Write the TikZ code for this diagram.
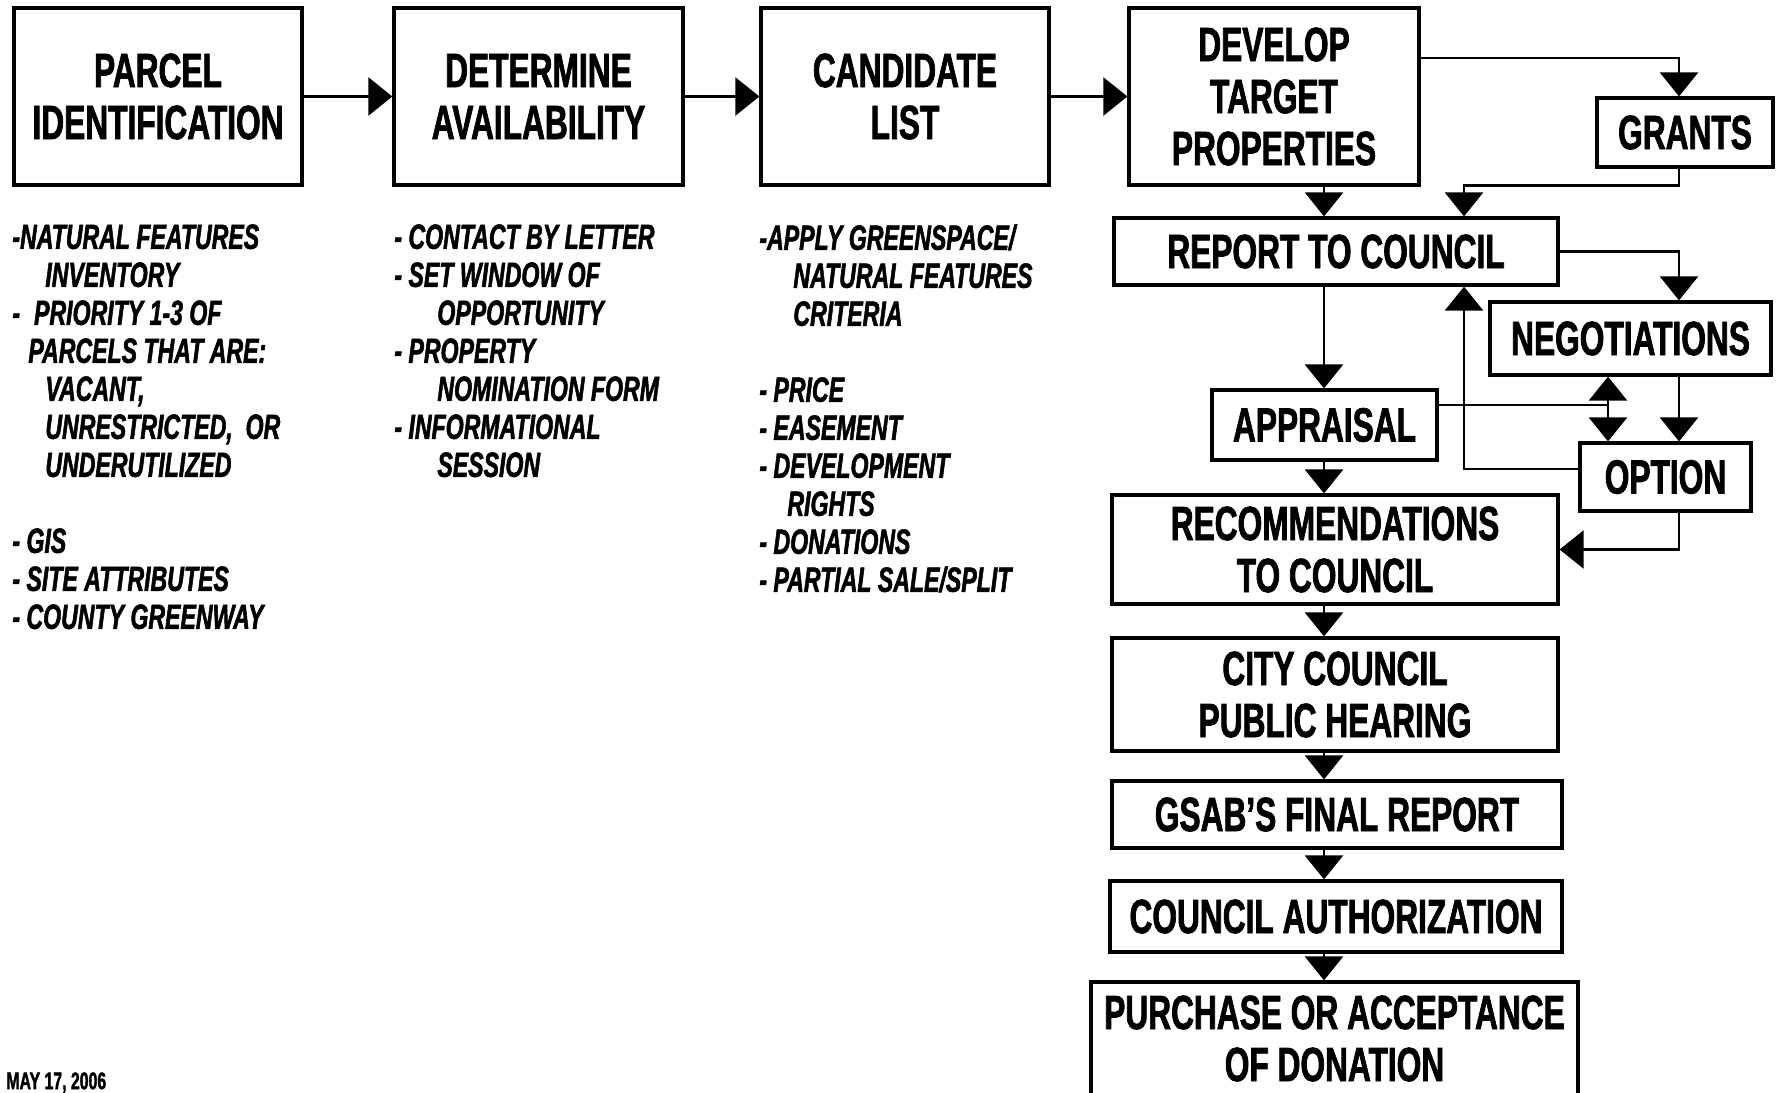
\documentclass[tikz,border=0pt]{standalone}
\usepackage{fontspec}
\setmainfont{Liberation Sans}[FakeStretch=0.66, BoldFeatures={FakeBold=1.5}, BoldItalicFeatures={FakeBold=1.5}]
\usetikzlibrary{arrows.meta,calc}
\newcommand{\boxfont}{\fontsize{24}{26}\selectfont\bfseries}
\newcommand{\notefont}{\fontsize{17.5}{19}\selectfont\bfseries\itshape}
\newcommand{\ind}[1]{\hspace*{#1pt}}
\tikzset{
  stage/.style={draw, line width=1.6pt, inner sep=0pt, align=center, font=\boxfont},
  notes/.style={anchor=north west, inner sep=0pt, align=left, font=\notefont},
  arr/.style={-{Triangle[width=19pt,length=12pt]}, line width=1.2pt},
  dblarr/.style={{Triangle[width=19pt,length=12pt]}-{Triangle[width=19pt,length=12pt]}, line width=1.2pt}
}

\begin{document}
\begin{tikzpicture}[x=0.5pt,y=-0.5pt]
        \useasboundingbox (0,0) rectangle (1781,1092);
        \clip (0,0) rectangle (1781,1092);
        % top row
        \node[stage, minimum width=144pt, minimum height=88.5pt] (parcel) at (158,96.5) {PARCEL\\IDENTIFICATION};
        \node[stage, minimum width=144.5pt, minimum height=88.5pt] (avail) at (538.5,96.5) {DETERMINE\\AVAILABILITY};
        \node[stage, minimum width=144pt, minimum height=88.5pt] (cand) at (905,96.5) {CANDIDATE\\LIST};
        \node[stage, minimum width=145pt, minimum height=88.5pt] (develop) at (1274,96.5) {DEVELOP\\TARGET\\PROPERTIES};
        % side boxes
        \node[stage, minimum width=88pt, minimum height=34.5pt] (grants) at (1685,132.5) {GRANTS};
        \node[stage, minimum width=140.5pt, minimum height=36.5pt] (negot) at (1630.5,338.5) {NEGOTIATIONS};
        \node[stage, minimum width=85.5pt, minimum height=34pt] (option) at (1665.5,477) {OPTION};
        % main column
        \node[stage, minimum width=222pt, minimum height=33.5pt] (report) at (1336,251.5) {REPORT TO COUNCIL};
        \node[stage, minimum width=112.5pt, minimum height=35pt] (appr) at (1324.5,425) {APPRAISAL};
        \node[stage, minimum width=223pt, minimum height=54.5pt] (recom) at (1335,549.5) {RECOMMENDATIONS\\TO COUNCIL};
        \node[stage, minimum width=223pt, minimum height=56.5pt] (hearing) at (1335,694.5) {CITY COUNCIL\\PUBLIC HEARING};
        \node[stage, minimum width=225pt, minimum height=33.5pt] (gsab) at (1337,814.5) {GSAB’S FINAL REPORT};
        \node[stage, minimum width=226pt, minimum height=35.5pt] (auth) at (1336,916.5) {COUNCIL AUTHORIZATION};
        \node[stage, minimum width=243.5pt, minimum height=56.5pt] (purchase) at (1334.5,1038.5) {PURCHASE OR ACCEPTANCE\\OF DONATION};
        % notes
        \node[notes] (notesA) at (12,224) {-NATURAL FEATURES\\
          \ind{16.5}INVENTORY\\
          -\ind{7}PRIORITY 1-3 OF\\
          \ind{8}PARCELS THAT ARE:\\
          \ind{16.5}VACANT,\\
          \ind{16.5}UNRESTRICTED,\ \ OR\\
          \ind{16.5}UNDERUTILIZED\\[19pt]
          - GIS\\
          - SITE ATTRIBUTES\\
          - COUNTY GREENWAY};
        \node[notes] (notesB) at (394,224) {- CONTACT BY LETTER\\
          - SET WINDOW OF\\
          \ind{21.5}OPPORTUNITY\\
          - PROPERTY\\
          \ind{21.5}NOMINATION FORM\\
          - INFORMATIONAL\\
          \ind{21.5}SESSION};
        \node[notes] (notesC) at (759,224) {-APPLY GREENSPACE/\\
          \ind{17}NATURAL FEATURES\\
          \ind{17}CRITERIA\\[19pt]
          - PRICE\\
          - EASEMENT\\
          - DEVELOPMENT\\
          \ind{14}RIGHTS\\
          - DONATIONS\\
          - PARTIAL SALE/SPLIT};
        \node[anchor=north west, inner sep=0pt, font=\fontsize{12}{14}\selectfont\bfseries] (date) at (6,1072) {MAY 17, 2006};
        % connectors
        \coordinate (spine) at (1324,0);
        \coordinate (dbl) at (1608,405);
        \coordinate (nr) at ([xshift=24.25pt]negot.south);
        \draw[arr] (parcel) -- (avail);
        \draw[arr] (avail) -- (cand);
        \draw[arr] (cand) -- (develop);
        \draw[arr] ([yshift=19.25pt]develop.east) -| ([xshift=-3pt]grants.north);
        \draw[arr] ([xshift=-3pt]grants.south) -- ++(0,17) -| ([xshift=64pt]report.north);
        \draw[arr] (develop.south -| spine) -- (report.north -| spine);
        \draw[arr] (report.east) -| ([xshift=24.25pt]negot.north);
        \draw[arr] (report.south -| spine) -- (appr.north -| spine);
        \draw[arr] (appr.south -| spine) -- (recom.north -| spine);
        \draw[line width=1.2pt] ([yshift=10pt]appr.east) -- (dbl);
        \draw[dblarr] (negot.south -| dbl) -- (option.north -| dbl);
        \draw[arr] (nr) -- (nr |- option.north);
        \draw[arr] ([yshift=4pt]option.west) -| ([xshift=64pt]report.south);
        \draw[arr] ([xshift=6.75pt]option.south) |- (recom.east);
        \draw[arr] (recom.south -| spine) -- (hearing.north -| spine);
        \draw[arr] (hearing.south -| spine) -- (gsab.north -| spine);
        \draw[arr] (gsab.south -| spine) -- (auth.north -| spine);
        \draw[arr] (auth.south -| spine) -- (purchase.north -| spine);
    \end{tikzpicture}
\end{document}
